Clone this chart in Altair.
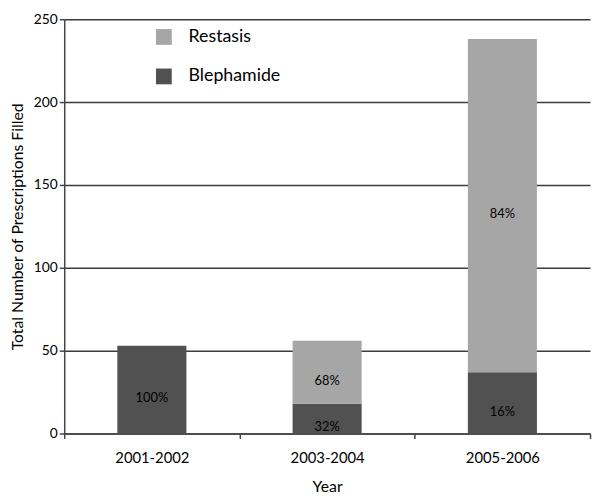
import altair as alt
import pandas as pd

years = ["2001-2002", "2003-2004", "2005-2006"]
blephamide = [53, 18, 37]
restasis = [0, 38, 201]
bleph_pct = ["100%", "32%", "16%"]
rest_pct = ["", "68%", "84%"]

rows = []
for i, y in enumerate(years):
    rows.append({"Year": y, "Drug": "Blephamide", "Count": blephamide[i], "Pct": bleph_pct[i], "ord": 0})
    rows.append({"Year": y, "Drug": "Restasis", "Count": restasis[i], "Pct": rest_pct[i], "ord": 1})
df = pd.DataFrame(rows)

FONT = "Lato"
color = alt.Color("Drug:N",
                  scale=alt.Scale(domain=["Restasis", "Blephamide"], range=["#a6a6a6", "#515151"]),
                  legend=alt.Legend(title=None, orient="none", legendX=92, legendY=9,
                                    symbolType="square", symbolSize=256, symbolStrokeWidth=0,
                                    labelFontSize=18, labelFont=FONT, labelColor="#000",
                                    rowPadding=22, labelOffset=16))

base = alt.Chart(df).transform_stack(
    stack="Count", as_=["y0", "y1"], groupby=["Year"], sort=[alt.SortField("ord")]
).transform_calculate(mid="(datum.y0 + datum.y1) / 2")

xenc = alt.X("Year:N", sort=years, title="Year",
             scale=alt.Scale(paddingInner=0, paddingOuter=0),
             axis=alt.Axis(labelAngle=0, labelFontSize=15, labelFont=FONT, labelColor="#000",
                           titleFontSize=16, titleFont=FONT, titleFontWeight="normal", titleColor="#000",
                           titlePadding=14, labelPadding=12, tickBand="extent", tickSize=5,
                           domainColor="#444", tickColor="#444", domainWidth=1.5, tickWidth=1.5,
                           grid=False))

bars = base.mark_bar(size=70).encode(
    x=xenc,
    y=alt.Y("y0:Q", title="Total Number of Prescriptions Filled",
            scale=alt.Scale(domain=[0, 250], nice=False),
            axis=alt.Axis(values=[0, 50, 100, 150, 200, 250], labelFontSize=14, labelFont=FONT,
                          labelColor="#000", titleFontSize=16, titleFont=FONT,
                          titleFontWeight="normal", titleColor="#000", titlePadding=8,
                          tickSize=5, tickColor="#444", domainColor="#444", domainWidth=1.5,
                          tickWidth=1.5, gridColor="#3c3c3c", gridWidth=1.5, gridOpacity=1)),
    y2="y1:Q",
    color=color,
)

labels = base.mark_text(fontSize=13, font=FONT, color="#000", dy=9).encode(
    x=alt.X("Year:N", sort=years),
    y=alt.Y("mid:Q"),
    text="Pct:N",
)

chart = (bars + labels).properties(
    width=533, height=420,
    autosize=alt.AutoSizeParams(type="none"),
    padding={"left": 57, "top": 8, "right": 2, "bottom": 62},
).configure_view(stroke=None).configure_axis(labelFont=FONT, titleFont=FONT)

chart.save("out.html", embed_options={"renderer": "svg", "actions": False})
